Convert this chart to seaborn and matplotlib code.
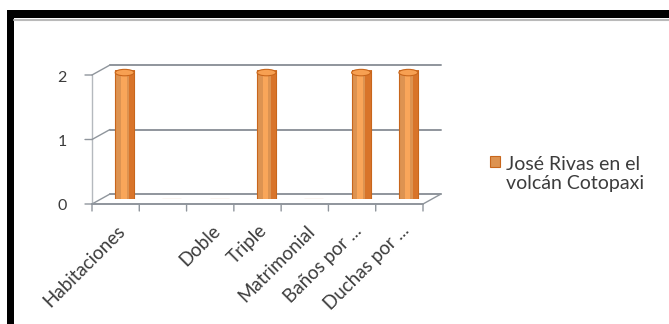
import pandas as pd
import matplotlib.pyplot as plt
import seaborn as sns
from matplotlib.patches import Rectangle, Ellipse
from matplotlib.legend_handler import HandlerPatch
from matplotlib.transforms import ScaledTranslation

# Data
categorias = ["Habitaciones", "", "Doble", "Triple", "Matrimonial", "Baños por ...", "Duchas por ..."]
valores = [2, 0, 0, 2, 0, 2, 2]
serie = "José Rivas en el\nvolcán Cotopaxi"
yticks = [0, 1, 2]

df = pd.DataFrame({"categoria": categorias, "valor": valores, "serie": serie})

sns.set_style("white")
plt.rcParams["font.family"] = ["Lato", "DejaVu Sans"]

fig = plt.figure(figsize=(6.69, 3.24), dpi=100)
ax = fig.add_axes([101 / 669, 1 - 199 / 324, 331 / 669, 129 / 324])

sns.barplot(data=df, x="categoria", y="valor", hue="serie", order=categorias,
            palette=["#F4913A"], width=0.4, edgecolor="#C8661C", linewidth=0.8,
            legend=True, ax=ax)

ax.set_xlim(-0.5, len(categorias) - 0.5)
ax.set_ylim(0, 2)
ax.set_xlabel("")
ax.set_ylabel("")
for s in ax.spines.values():
    s.set_visible(False)
ax.grid(False)

# pixel offsets for the pseudo 3D planes (mid plane = axes)
def px(dx, dy):
    return ScaledTranslation(dx / 100, dy / 100, fig.dpi_scale_trans)

grid_c = "#8f959c"
back = ax.get_yaxis_transform() + px(9, 5)
front = ax.get_yaxis_transform() + px(-9, -5)
for y in yticks:
    ax.plot([0, 1], [y, y], transform=back, color=grid_c, lw=1.4, clip_on=False, zorder=0)
    # diagonal from front to back on the left wall
    ax.annotate("", xy=(0, y), xycoords=back, xytext=(0, y), textcoords=front,
                arrowprops=dict(arrowstyle="-", color=grid_c, lw=1.0, shrinkA=0, shrinkB=0))
    # small tick to the left of the front axis
    ax.annotate("", xy=(0, y), xycoords=front, xytext=(-7, 0), textcoords="offset pixels",
                arrowprops=dict(arrowstyle="-", color=grid_c, lw=1.0, shrinkA=0, shrinkB=0))
ax.plot([0, 0], [0, 2], transform=front, color="#b5b9be", lw=1.0, clip_on=False)
ax.plot([0, 1], [0, 0], transform=front, color=grid_c, lw=1.4, clip_on=False, zorder=4)
ax.annotate("", xy=(1, 0), xycoords=back, xytext=(1, 0), textcoords=front,
            arrowprops=dict(arrowstyle="-", color=grid_c, lw=1.0, shrinkA=0, shrinkB=0))
# category boundary ticks on the front floor edge
xfront = ax.get_xaxis_transform() + px(-9, -5)
for k in range(len(categorias) + 1):
    xb = k - 0.5
    ax.annotate("", xy=(xb, 0), xycoords=xfront, xytext=(0, -7), textcoords="offset pixels",
                arrowprops=dict(arrowstyle="-", color=grid_c, lw=1.0, shrinkA=0, shrinkB=0))

# cylinder look: darker sides and rounded caps
for p in ax.patches:
    h = p.get_height()
    if h <= 0:
        continue
    x0, w = p.get_x(), p.get_width()
    ax.add_patch(Rectangle((x0 + w * 0.72, 0), w * 0.28, h, color="#D8742A", lw=0, zorder=3))
    ax.add_patch(Rectangle((x0 + w * 0.3, 0), w * 0.3, h, color="#F9A65A", lw=0, zorder=3))
    ax.add_patch(Ellipse((x0 + w / 2, h - 0.04), w, 0.1, facecolor="#F7A052",
                         edgecolor="#C8661C", lw=0.8, zorder=4, clip_on=False))

# tick labels
txt_c = "#3c3c3c"
ax.set_yticks(yticks)
ax.set_yticklabels([str(v) for v in yticks])
ax.tick_params(axis="y", length=0, pad=0, labelsize=11.5, labelcolor=txt_c)
for lab in ax.get_yticklabels():
    lab.set_transform(lab.get_transform() + px(-34, -6))

ax.set_xticks(range(len(categorias)))
ax.set_xticklabels(categorias, rotation=45, ha="right", va="top", rotation_mode="anchor")
ax.tick_params(axis="x", length=0, pad=0, labelsize=13.5, labelcolor=txt_c)
for lab in ax.get_xticklabels():
    lab.set_transform(lab.get_transform() + px(-8, -23))


# legend: square marker aligned with the first line of the two-line label
def first_line_patch(legend, orig_handle, xdescent, ydescent, width, height, fontsize):
    return Rectangle((-xdescent, -ydescent + fontsize * 0.65), width, height)


handles, labels = ax.get_legend_handles_labels()
ax.legend(handles, labels, loc="center left", bbox_to_anchor=(480 / 669, 1 - 174 / 324),
          bbox_transform=fig.transFigure, frameon=False, fontsize=14, labelcolor=txt_c,
          handlelength=0.55, handleheight=0.55, handletextpad=0.3, borderpad=0,
          handler_map={handles[0]: HandlerPatch(patch_func=first_line_patch)})

# black frame and thin gray rule of the screenshot
fig.add_artist(Rectangle((7 / 669, 0), 1, 1 - 10 / 324, transform=fig.transFigure,
                         facecolor="black", lw=0, zorder=-5))
fig.add_artist(Rectangle((14 / 669, 0), 1, 1 - 18 / 324, transform=fig.transFigure,
                         facecolor="white", lw=0, zorder=-4))
fig.add_artist(plt.Line2D([14 / 669, 1], [1 - 20 / 324, 1 - 20 / 324], transform=fig.transFigure,
                          color="#b9b9b9", lw=1.5, zorder=-3))
ax.set_facecolor("none")

plt.savefig("out.png", dpi=100)
plt.close()
